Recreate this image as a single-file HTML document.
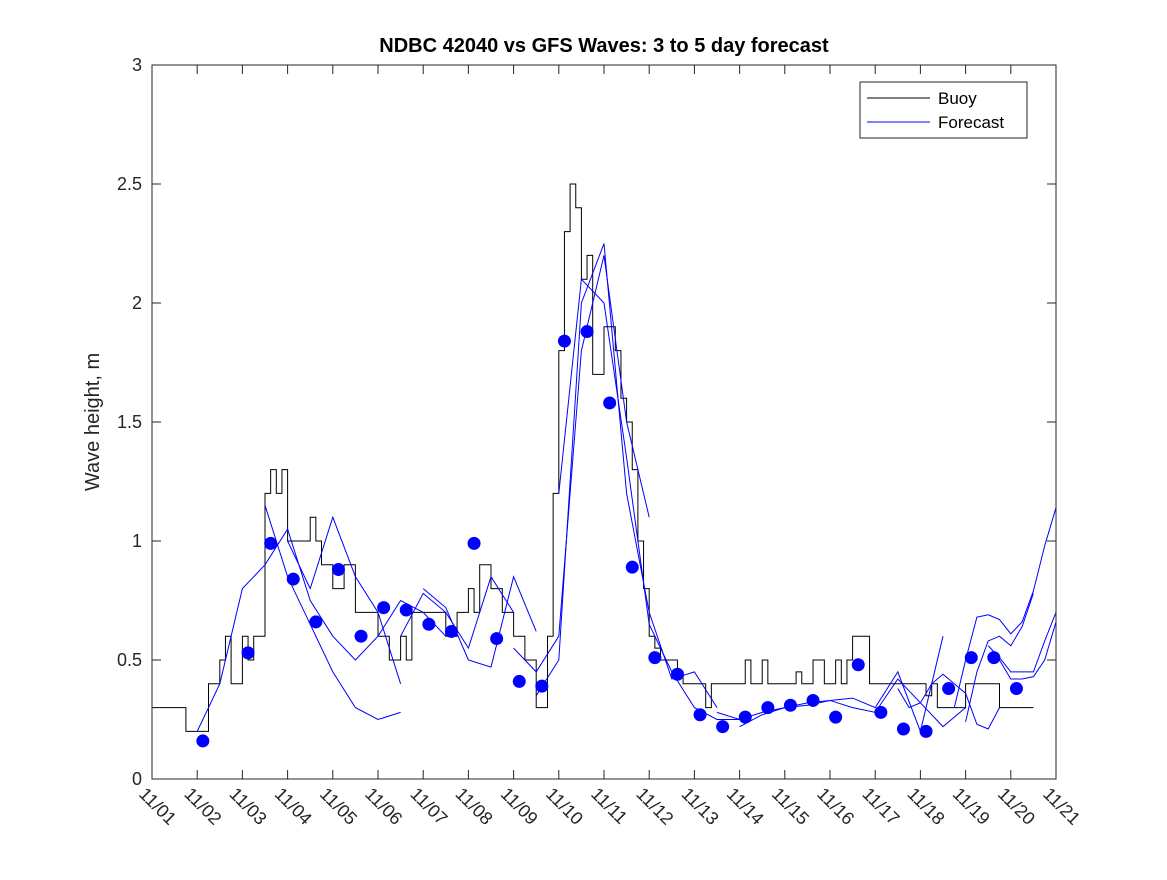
<!DOCTYPE html>
<html><head><meta charset="utf-8"><style>
body{margin:0;background:#fff;}
svg{font-family:"Liberation Sans",sans-serif;}
</style></head><body>
<svg id="chart" width="1167" height="875" xmlns="http://www.w3.org/2000/svg">
<defs><clipPath id="cp"><rect x="152" y="65" width="904" height="714"/></clipPath></defs>
<rect width="1167" height="875" fill="#fff"/>
<text x="604" y="52" text-anchor="middle" font-size="20" font-weight="bold" fill="#000">NDBC 42040 vs GFS Waves: 3 to 5 day forecast</text>
<text transform="translate(99,422) rotate(-90)" text-anchor="middle" font-size="20" fill="#262626">Wave height, m</text>
<g id="plot"></g>
<rect x="152" y="65" width="904" height="714" fill="none" stroke="#262626" stroke-width="1"/>
<g>
<rect x="860" y="82" width="167" height="56" fill="#fff" stroke="#262626"/>
<line x1="867" y1="98" x2="930" y2="98" stroke="#000"/>
<text x="938" y="104" font-size="17" fill="#000">Buoy</text>
<line x1="867" y1="122" x2="930" y2="122" stroke="#00f"/>
<text x="938" y="128" font-size="17" fill="#000">Forecast</text>
</g>
</svg>
<script>
const yTicks=[0,0.5,1,1.5,2,2.5,3];
const xTickLabels=["11/01","11/02","11/03","11/04","11/05","11/06","11/07","11/08","11/09","11/10","11/11","11/12","11/13","11/14","11/15","11/16","11/17","11/18","11/19","11/20","11/21"];
const buoyStart=0, buoyStep=0.125;
const buoyValues=[0.3,0.3,0.3,0.3,0.3,0.3,0.2,0.2,0.2,0.2,0.4,0.4,0.5,0.6,0.4,0.4,0.6,0.5,0.6,0.6,1.2,1.3,1.2,1.3,1.0,1.0,1.0,1.0,1.1,1.0,0.9,0.9,0.8,0.8,0.9,0.9,0.7,0.7,0.7,0.7,0.6,0.6,0.5,0.5,0.6,0.5,0.7,0.7,0.7,0.7,0.7,0.7,0.6,0.6,0.7,0.7,0.8,0.7,0.9,0.9,0.8,0.8,0.7,0.7,0.6,0.6,0.5,0.5,
0.3,0.3,0.6,1.2,1.8,2.3,2.5,2.4,2.1,2.2,1.7,1.7,1.9,1.9,1.8,1.6,1.5,1.3,1.0,0.8,0.6,0.55,0.5,
0.5,0.5,0.45,0.4,0.4,0.4,0.4,0.3,0.4,0.4,0.4,0.4,0.4,0.4,0.5,0.4,0.4,0.5,0.4,0.4,0.4,0.4,0.4,0.45,0.4,0.4,0.5,0.5,0.4,0.4,0.5,0.4,0.5,0.6,0.6,0.6,0.4,0.4,0.4,0.4,0.4,0.4,0.4,0.4,0.4,0.4,0.35,0.4,0.3,0.3,0.3,0.3,0.3,0.4,0.4,0.4,0.4,0.4,0.4,0.3,0.3,0.3,0.3,0.3,0.3];
const dotDays=[1.125,2.125,2.625,3.125,3.625,4.125,4.625,5.125,5.625,6.125,6.625,7.125,7.625,8.125,8.625,9.125,9.625,10.125,10.625,11.125,11.625,12.125,12.625,13.125,13.625,14.125,14.625,15.125,15.625,16.125,16.625,17.125,17.625,18.125,18.625,19.125];
const dotValues=[0.16,0.53,0.99,0.84,0.66,0.88,0.60,0.72,0.71,0.65,0.62,0.99,0.59,0.41,0.39,1.84,1.88,1.58,0.89,0.51,0.44,0.27,0.22,0.26,0.30,0.31,0.33,0.26,0.48,0.28,0.21,0.20,0.38,0.51,0.51,0.38];
const fcStarts=[1.0,2.5,3.0,5.5,6.0,8.0,8.5,9.0,12.5,13.0,16.5,17.75,18.0,18.5,18.75];
const fcSteps=[0.5,0.5,0.5,0.5,0.5,0.5,0.5,0.5,0.5,0.5,0.25,0.25,0.25,0.25,0.25];
const fcValues=[
[0.2,0.4,0.8,0.9,1.05,0.75,0.6,0.5,0.6,0.75,0.7,0.6],
[1.15,0.85,0.65,0.45,0.3,0.25,0.28],
[1.0,0.8,1.1,0.85,0.7,0.4],
[0.6,0.78,0.7,0.55,0.85,0.7],
[0.8,0.72,0.5,0.47,0.85,0.62],
[0.55,0.45,0.6,1.8,2.2,1.5,1.1],
[0.35,0.5,2.0,2.25,1.2,0.7,0.42,0.45,0.3],
[1.2,2.1,2.0,1.35,0.65,0.45,0.3,0.25,0.25],
[0.28,0.25,0.28,0.3,0.32,0.33,0.34,0.3,0.45,0.2,0.6],
[0.22,0.27,0.3,0.31,0.33,0.3,0.28,0.42,0.32,0.22,0.3],
[0.38,0.3,0.32,0.4,0.44,0.4,0.36,0.23,0.21,0.3],
[0.3,0.5,0.68,0.69,0.67,0.61,0.66,0.79,0.98,1.14],
[0.24,0.45,0.58,0.6,0.56,0.64,0.78],
[0.56,0.51,0.45,0.45,0.45,0.58,0.70],
[0.5,0.42,0.42,0.43,0.5,0.66]];
const NS="http://www.w3.org/2000/svg";
const X0=152,X1=1056,Y0=779,Y1=65;
const xs=d=>X0+(X1-X0)*d/20, ys=v=>Y0-(Y0-Y1)*v/3;
const g=document.getElementById('plot');
function mk(t,a,parent){const e=document.createElementNS(NS,t);for(const k in a)e.setAttribute(k,a[k]);(parent||g).appendChild(e);return e;}
yTicks.forEach(v=>{
 const l=mk('path',{d:`M${X0} ${ys(v)}h9M${X1} ${ys(v)}h-9`,stroke:'#262626'});
 
 
 const t=mk('text',{x:X0-10,y:ys(v)+6,'text-anchor':'end','font-size':'18',fill:'#262626'});t.textContent=v;
 
 
});
xTickLabels.forEach((s,i)=>{
 const x=xs(i);
 const l=mk('path',{d:`M${x} ${Y0}v-9M${x} ${Y1}v9`,stroke:'#262626'});
 
 
 const t=mk('text',{transform:`translate(${x-14},${Y0+16}) rotate(45)`,'font-size':'18',fill:'#262626'});t.textContent=s;
 
 
});
const clipG=mk('g',{'clip-path':'url(#cp)'});


let d='';buoyValues.forEach((v,i)=>{const x=xs(buoyStart+i*buoyStep);d+=(i?`H${x}V${ys(v)}`:`M${x} ${ys(v)}`);});
d+=`H${xs(buoyStart+buoyValues.length*buoyStep)}`;
const b=mk('path',{d:d,fill:'none',stroke:'#000','stroke-width':1},clipG);


fcValues.forEach((arr,k)=>{
 const p=mk('polyline',{points:arr.map((v,i)=>xs(fcStarts[k]+i*fcSteps[k])+','+ys(v)).join(' '),fill:'none',stroke:'#00f','stroke-width':1},clipG);
 
 
});
dotDays.forEach((dd,i)=>{
 const c=mk('circle',{cx:xs(dd),cy:ys(dotValues[i]),r:6.5,fill:'#00f'},clipG);
 
 
});
</script>
</body></html>
